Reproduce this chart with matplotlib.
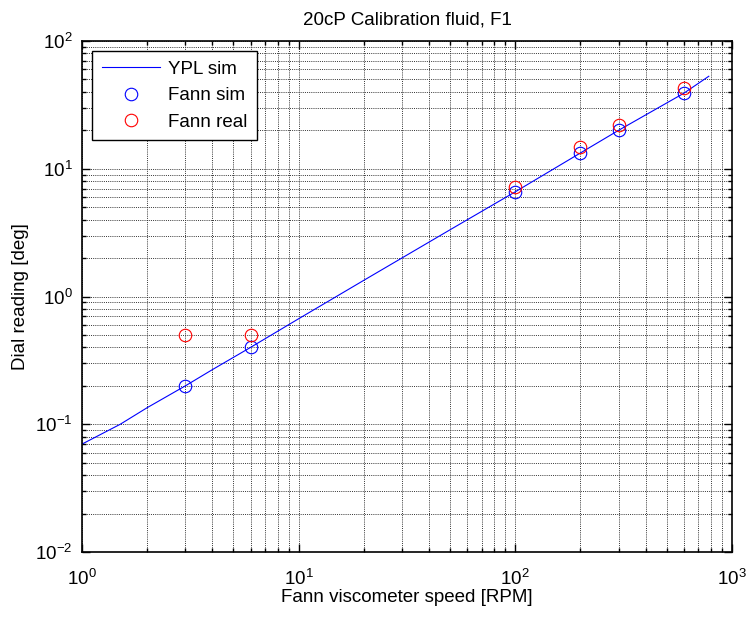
import matplotlib.pyplot as plt
from matplotlib.ticker import LogLocator, NullFormatter

plt.rcParams['font.family'] = ['Liberation Sans', 'DejaVu Sans']
plt.rcParams['mathtext.fontset'] = 'custom'
plt.rcParams['mathtext.rm'] = 'Liberation Sans'
plt.rcParams['mathtext.it'] = 'Liberation Sans:italic'
plt.rcParams['axes.unicode_minus'] = False

# YPL simulated curve
ypl_rpm = [1, 1.5, 2, 3, 4, 6, 10, 20, 50, 100, 200, 300, 600, 783]
ypl_dial = [0.070, 0.100, 0.135, 0.200, 0.268, 0.400, 0.67, 1.34, 3.33, 6.6, 13.3, 20.0, 39.0, 53.0]

# Fann viscometer readings
fann_rpm = [3, 6, 100, 200, 300, 600]
fann_sim = [0.2, 0.4, 6.6, 13.3, 20.0, 39.0]
fann_real = [0.5, 0.5, 7.2, 14.8, 22.0, 43.0]


def main():
    fig = plt.figure(figsize=(7.46, 6.17), dpi=100)
    ax = fig.add_axes([0.110, 0.1053, 0.871, 0.8282])

    ax.loglog(ypl_rpm, ypl_dial, color='blue', lw=0.8, label='YPL sim')
    ax.loglog(fann_rpm, fann_sim, 'o', mfc='none', mec='blue', ms=9, mew=0.8,
              label='Fann sim')
    ax.loglog(fann_rpm, fann_real, 'o', mfc='none', mec='red', ms=9, mew=0.8,
              label='Fann real')

    ax.set_xlim(1, 1000)
    ax.set_ylim(0.01, 100)

    for a in (ax.xaxis, ax.yaxis):
        a.set_major_locator(LogLocator(base=10, numticks=10))
        a.set_minor_locator(LogLocator(base=10, subs=range(2, 10), numticks=10))
        a.set_minor_formatter(NullFormatter())

    ax.grid(True, which='both', color='#333333', ls=(0, (1, 1.2)), lw=0.7)
    ax.tick_params(which='both', direction='in', top=True, right=True,
                   labelsize=13.5, width=1)
    ax.tick_params(which='major', length=6)
    ax.tick_params(which='minor', length=3)
    ax.tick_params(axis='x', which='major', pad=12)
    ax.tick_params(axis='y', which='major', pad=7)
    for s in ax.spines.values():
        s.set_linewidth(1.2)

    ax.set_title('20cP Calibration fluid, F1', fontsize=13.5, pad=12)
    ax.set_xlabel('Fann viscometer speed [RPM]', fontsize=13.5, labelpad=0)
    ax.set_ylabel('Dial reading [deg]', fontsize=13.5, labelpad=4)

    leg = ax.legend(loc='upper left', fontsize=13.5, fancybox=False,
                    edgecolor='black', framealpha=1, borderaxespad=0.55,
                    handlelength=3.1, handletextpad=0.45, borderpad=0.5,
                    labelspacing=0.5)
    leg.get_frame().set_linewidth(1)

    fig.savefig('out.png', dpi=100)


if __name__ == '__main__':
    main()
